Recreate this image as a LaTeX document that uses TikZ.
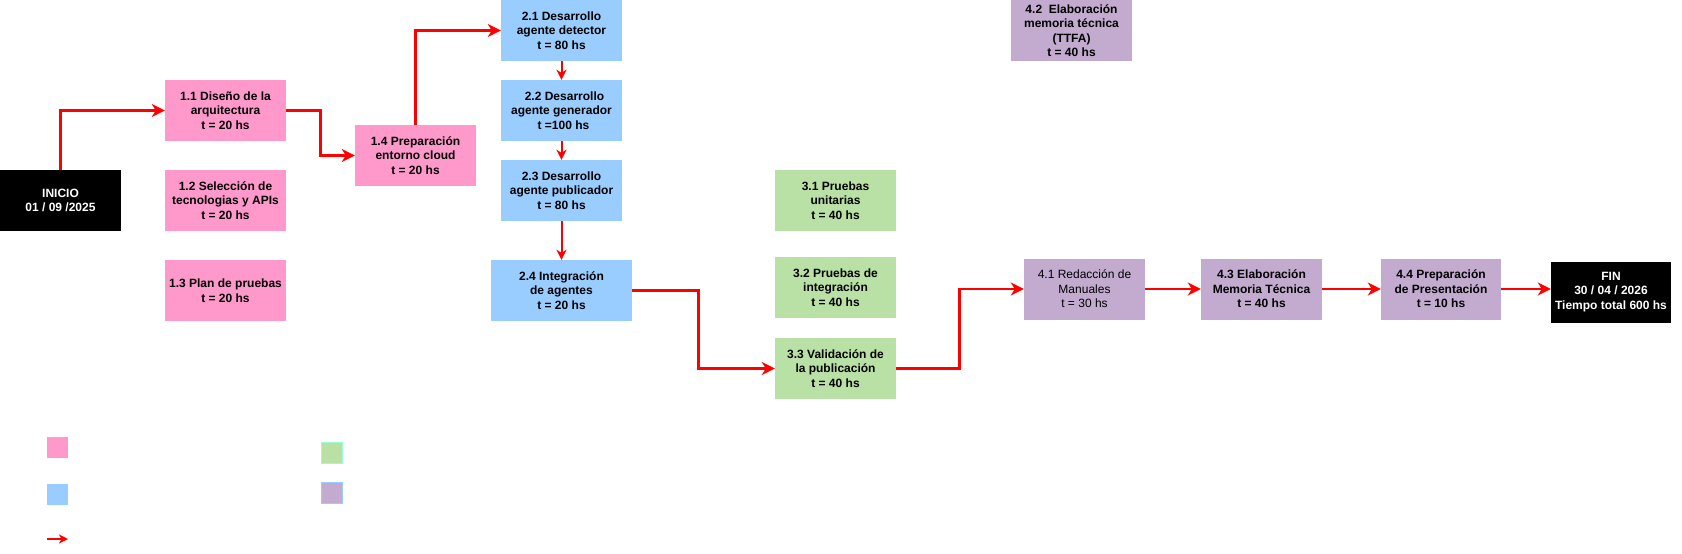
\documentclass[tikz,border=0pt]{standalone}
\usepackage{fontspec}
\setmainfont{Liberation Sans}
\usetikzlibrary{arrows.meta}
\definecolor{pinkc}{HTML}{FF99CC}
\definecolor{bluec}{HTML}{99CCFF}
\definecolor{greenc}{HTML}{B9E0A5}
\definecolor{purplec}{HTML}{C3ABD0}
\definecolor{mintc}{HTML}{99FFCC}
\begin{document}
\begin{tikzpicture}[x=1pt,y=-1pt,
  box/.style={minimum width=121pt,minimum height=61pt,inner sep=0pt,align=center,
    font=\fontsize{12}{14.5}\selectfont\bfseries,text=black},
  pinkbox/.style={box,fill=pinkc},
  bluebox/.style={box,fill=bluec},
  greenbox/.style={box,fill=greenc},
  purplebox/.style={box,fill=purplec},
  blackbox/.style={box,fill=black,text=white},
  flow/.style={draw=red,line width=2.6pt,-{Stealth[length=13pt,width=13pt,inset=4pt]}},
  thinflow/.style={draw=red,line width=2pt,-{Stealth[length=10pt,width=10pt,inset=3pt]}},
  legsq/.style={minimum width=21pt,minimum height=21pt,inner sep=0pt}
]
\useasboundingbox (0,0) rectangle (1682,554);

% Nodes
\node[blackbox] (ini) at (60.5,200.5) {INICIO\\01 / 09 /2025};
\node[pinkbox] (n11) at (225.5,110.5) {1.1 Diseño de la\\arquitectura\\t = 20 hs};
\node[pinkbox] (n12) at (225.5,200.5) {1.2 Selección de\\tecnologias y APIs\\t = 20 hs};
\node[pinkbox] (n13) at (225.5,290.5) {1.3 Plan de pruebas\\t = 20 hs};
\node[pinkbox] (n14) at (415.5,155.5) {1.4 Preparación\\entorno cloud\\t = 20 hs};

\node[bluebox] (n21) at (561.5,30.5) {2.1 Desarrollo\\agente detector\\t = 80 hs};
\node[bluebox] (n22) at (561.5,110.5) {\hspace*{6pt}2.2 Desarrollo\\agente generador\\\hspace*{4pt}t =100 hs};
\node[bluebox] (n23) at (561.5,190.5) {2.3 Desarrollo\\agente publicador\\t = 80 hs};
\node[bluebox,minimum width=141pt] (n24) at (561.5,290.5) {2.4 Integración\\de agentes\\t = 20 hs};

\node[greenbox] (n31) at (835.5,200.5) {3.1 Pruebas\\unitarias\\t = 40 hs};
\node[greenbox] (n32) at (835.5,287.5) {3.2 Pruebas de\\integración\\t = 40 hs};
\node[greenbox] (n33) at (835.5,368.5) {3.3 Validación de\\la publicación\\t = 40 hs};

\node[purplebox] (n42) at (1071.5,30.5) {4.2\ \ Elaboración\\memoria técnica\\(TTFA)\\t = 40 hs};
\node[purplebox,font=\fontsize{12}{14.5}\selectfont] (n41) at (1084.5,289) {4.1 Redacción de\\Manuales\\t = 30 hs};
\node[purplebox] (n43) at (1261.5,289) {4.3 Elaboración\\Memoria Técnica\\t = 40 hs};
\node[purplebox,minimum width=120pt] (n44) at (1441,289) {4.4 Preparación\\de Presentación\\t = 10 hs};
\node[blackbox,minimum width=120pt] (fin) at (1611,292) {FIN\\30 / 04 / 2026\\Tiempo total 600 hs};

% Connectors
\draw[flow] (ini.north) |- (n11.west);
\draw[flow] (n11.east) -- ++(34,0) |- (n14.west);
\draw[flow] (n14.north) |- (n21.west);
\draw[thinflow] (n21.south) -- (n22.north);
\draw[thinflow] (n22.south) -- (n23.north);
\draw[thinflow] (n23.south) -- (n24.north);
\draw[flow] (n24.east) -- ++(66,0) |- (n33.west);
\draw[flow] (n33.east) -- ++(63,0) |- (n41.west);
\draw[flow] (n41.east) -- (n43.west);
\draw[flow] (n43.east) -- (n44.west);
\draw[flow] (n44.east) -- (fin.west |- n44.east);

% Legend
\node[legsq,fill=pinkc] (lgpink) at (57.5,447.5) {};
\node[legsq,fill=bluec] (lgblue) at (57.5,494.5) {};
\node[legsq,fill=greenc,draw=mintc,line width=1pt] (lggreen) at (331.5,452.5) {};
\node[legsq,fill=purplec,draw=bluec,line width=1pt] (lgpurple) at (331.5,492.5) {};
\coordinate (lga) at (47,539);
\coordinate (lgb) at (68,539);
\draw[draw=red,line width=1.5pt,-{Stealth[length=9pt,width=9pt,inset=2.5pt]}] (lga) -- (lgb);
\end{tikzpicture}
\end{document}
